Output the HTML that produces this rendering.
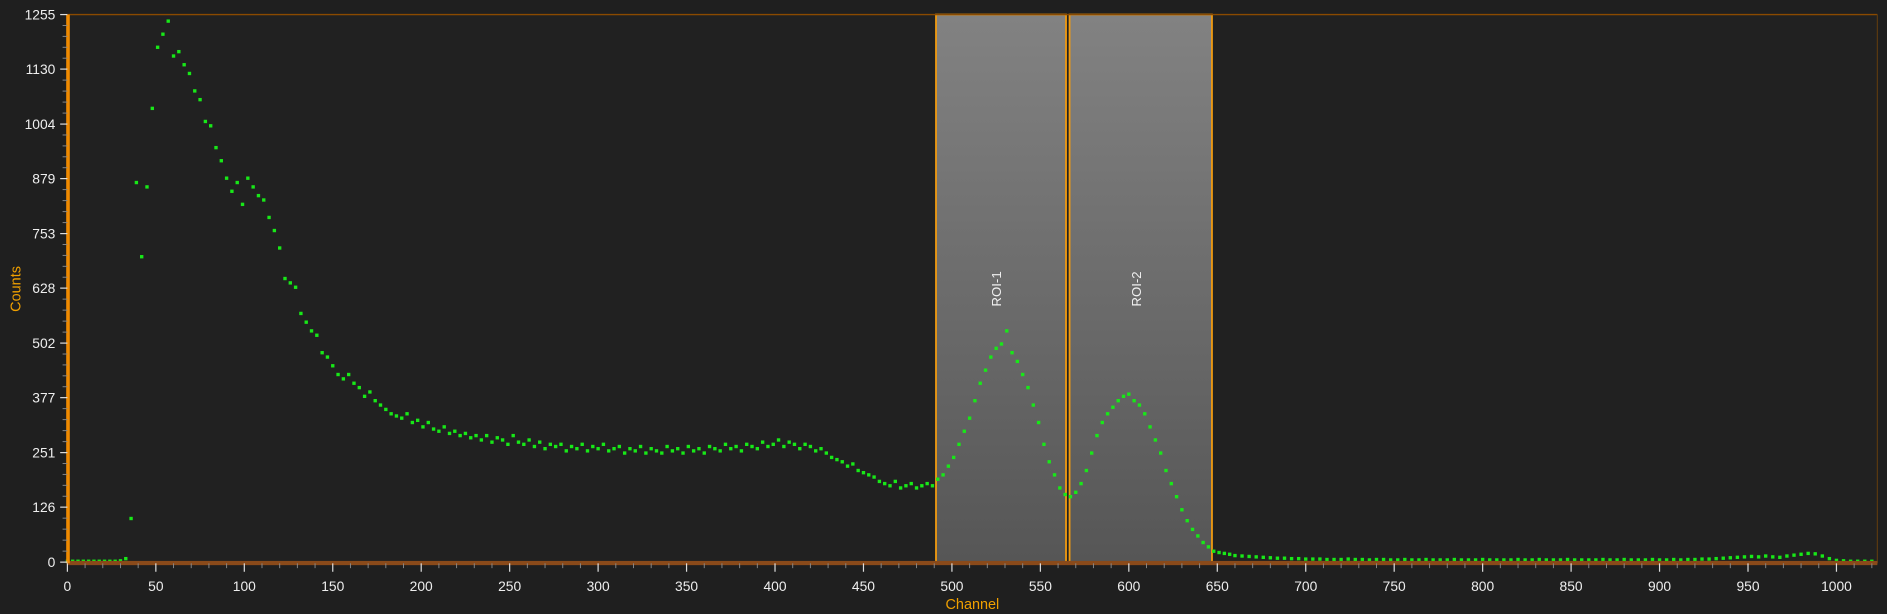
<!DOCTYPE html>
<html><head><meta charset="utf-8"><style>
html,body{margin:0;padding:0;background:#1f1f1f;width:1887px;height:614px;overflow:hidden}
svg{display:block}
text{font-family:"Liberation Sans",sans-serif}
</style></head><body>
<svg id="chart" width="1887" height="614" viewBox="0 0 1568 510" xmlns="http://www.w3.org/2000/svg">
<defs>
<linearGradient id="roiGrad" x1="0" y1="0" x2="0" y2="1">
<stop offset="0" stop-color="#828282"/><stop offset="1" stop-color="#565656"/>
</linearGradient>
</defs>
<rect x="56" y="12" width="1504" height="456" fill="#212121"/>
<g id="rois"></g>
<g id="dots"></g>
<line x1="56" y1="12" x2="1560" y2="12" stroke="#8a4a00" stroke-width="1.2"/>
<line x1="1560" y1="12" x2="1560" y2="468" stroke="#5a3a10" stroke-width="1"/>
<rect x="56" y="466" width="1504" height="3.5" fill="#8a4a1a"/>
<rect x="55" y="12" width="3" height="456" fill="#f08a00"/>
<g id="axes"></g>
<text x="17" y="240" fill="#f0a000" font-size="12" text-anchor="middle" transform="rotate(-90 17 240)">Counts</text>
<text x="808" y="506" fill="#f0a000" font-size="12" text-anchor="middle">Channel</text>
</svg>
<script>
const yTicks=[0,126,251,377,502,628,753,879,1004,1130,1255];
const xTicks=[0,50,100,150,200,250,300,350,400,450,500,550,600,650,700,750,800,850,900,950,1000];
const roiNames=["ROI-1","ROI-2"];
const roiStart=[491,566.5];
const roiEnd=[564.5,647];
const segAStart=0, segAStep=3;
const segACounts=[2,2,2,2,2,2,2,2,2,2,
3,8,100,870,700,860,1040,1180,1210,1240,1160,1170,1140,1120,1080,1060,1010,1000,950,920,880,850,870,820,880,860,840,830,790,760,720,650,640,630,570,550,530,520,480,470,450,430,420,430,410,400,380,390,370,360,350,340,335,330,340,320,325,310,320,305,300,310,295,300,290,295,285,290,280,290,275,285,280,270,290,275,270,280,265,275,260,270,265,270,255,265,260,270,255,265,260,270,255,260,265,250,260,255,265,250,260,255,250,265,255,260,250,265,255,260,250,265,260,255,270,260,265,255,270,265,260,275,265,270,280,265,275,270,260,270,265,255,260,250,240,235,230,220,225,210,205,200,195,185,180,175,185,170,175,180,170,175,180,175,190,200,220,240,270,300,330,370,410,440,470,490,500,530,480,460,430,400,360,320,270,230,200,170,155,150,160,180,210,250,290,320,340,355,370,380,385,370,360,340,310,280,250,210,180,150,120,95,75,60,45,35,25,22,20,18];
const segBStart=660, segBStep=4;
const segBCounts=[15,14,13,12,11,10,9,9,8,8,7,7,7,6,6,6,7,6,6,5,6,6,5,5,6,5,5,6,5,5,5,6,5,5,5,6,5,5,5,5,6,5,5,6,5,5,5,6,5,5,5,5,6,5,5,6,5,5,5,6,5,5,6,5,6,6,7,7,8,9,10,11,12,13,12,14,12,11,14,16,18,20,19,14,8,4,3,2,2,2,2];

const X0=56,XS=1.47,Y0=467,YT=12,YMAX=1255;
const xs=c=>X0+c*XS;
const ys=v=>Y0-(v/YMAX)*(Y0-YT);
const NS="http://www.w3.org/2000/svg";
const mk=(t,a)=>{const e=document.createElementNS(NS,t);for(const k in a)e.setAttribute(k,a[k]);return e;};
const roiG=document.getElementById('rois'),dotG=document.getElementById('dots'),axG=document.getElementById('axes');

roiNames.forEach((n,i)=>{
 const x1=xs(roiStart[i]),x2=xs(roiEnd[i]);
 const r=mk('rect',{x:x1,y:12,width:x2-x1,height:455,fill:'url(#roiGrad)',stroke:'#f09a10','stroke-width':1.5});
 
 
 roiG.appendChild(r);
 const cx=(x1+x2)/2;
 const t=mk('text',{x:cx,y:240,fill:'#f0f0f0','font-size':11,'text-anchor':'middle',transform:'rotate(-90 '+cx+' 240)'});
 t.textContent=n;
 
 
 roiG.appendChild(t);
});

function drawSeg(start,step,arr){
 arr.forEach((v,i)=>{
  const c=start+i*step;
  const d=mk('rect',{x:xs(c)-1.4,y:ys(v)-1.4,width:2.8,height:2.8,fill:'#18e818'});
  
  
  dotG.appendChild(d);
 });
}
drawSeg(segAStart,segAStep,segACounts);
drawSeg(segBStart,segBStep,segBCounts);

yTicks.forEach((v,i)=>{
 const y=ys(v);
 const l=mk('line',{x1:50,y1:y,x2:56,y2:y,stroke:'#ddd','stroke-width':1});
 
 
 axG.appendChild(l);
 const t=mk('text',{x:46,y:y+4,fill:'#eee','font-size':11.5,'text-anchor':'end'});
 t.textContent=v;
 
 
 axG.appendChild(t);
 if(i<yTicks.length-1){
  const step=(yTicks[i+1]-v)/5;
  for(let k=1;k<5;k++){
   const yy=ys(v+step*k);
   const m=mk('line',{x1:52,y1:yy,x2:56,y2:yy,stroke:'#888','stroke-width':0.8});
   
   
   axG.appendChild(m);
  }
 }
});
xTicks.forEach((v,i)=>{
 const x=xs(v);
 const l=mk('line',{x1:x,y1:468,x2:x,y2:475,stroke:'#ddd','stroke-width':1});
 
 
 axG.appendChild(l);
 const t=mk('text',{x:x,y:491,fill:'#eee','font-size':11.5,'text-anchor':'middle'});
 t.textContent=v;
 
 
 axG.appendChild(t);
 for(let k=1;k<5;k++){
  const xx=xs(v+10*k);
  if(xx>1560)break;
  const m=mk('line',{x1:xx,y1:468,x2:xx,y2:472,stroke:'#888','stroke-width':0.8});
  
  
  axG.appendChild(m);
 }
});
</script>
</body></html>
